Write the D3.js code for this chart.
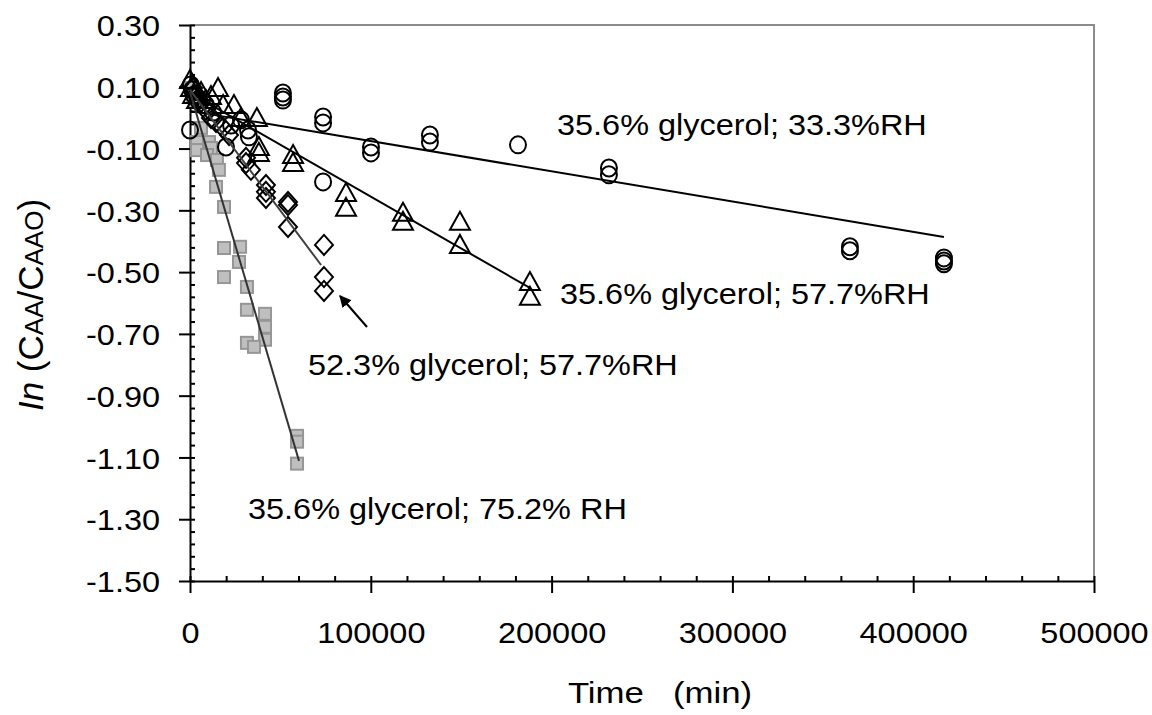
<!DOCTYPE html>
<html><head><meta charset="utf-8">
<script src="https://cdn.jsdelivr.net/npm/d3@7"></script>
<style>
body{margin:0;background:#fff;}
svg text{font-family:"Liberation Sans",Arial,sans-serif;fill:#000;}
</style></head>
<body>
<svg id="chart" width="1152" height="715"></svg>
<script>
// ---------- data ----------
const xTicks = [0, 100000, 200000, 300000, 400000, 500000];
const yTicks = [0.30, 0.10, -0.10, -0.30, -0.50, -0.70, -0.90, -1.10, -1.30, -1.50];

// 35.6% glycerol; 33.3%RH  (circles)
const circT = [500,1100,2200,0,4400,8800,12700,19900,22700,28200,32100,32600,51400,51400,51400,73600,73600,73600,100100,100100,132700,132700,181400,231700,231700,365000,365000,417000,417000,417000];
const circV = [0.106,0.090,0.073,-0.040,0.057,0.041,0.018,-0.095,-0.024,-0.007,-0.040,-0.062,0.080,0.067,0.057,0.002,-0.017,-0.208,-0.095,-0.114,-0.056,-0.079,-0.088,-0.163,-0.185,-0.418,-0.431,-0.454,-0.464,-0.473];
// 35.6% glycerol; 57.7%RH (triangles)
const triT = [0,550,1700,3900,6100,8800,11600,15500,18300,24300,28200,37000,38100,38100,57000,57000,86300,86300,117800,117800,149300,149300,188000,188000];
const triV = [0.122,0.096,0.073,0.057,0.083,0.057,0.070,0.096,0.041,0.041,-0.001,-0.001,-0.095,-0.114,-0.121,-0.147,-0.244,-0.292,-0.308,-0.337,-0.337,-0.412,-0.532,-0.580];
// 52.3% glycerol; 57.7%RH (diamonds)
const diaT = [1700,3900,6100,8800,11600,14400,18300,21600,31000,31000,33700,42000,42000,42000,54200,54200,54200,74100,74100,74100];
const diaV = [0.096,0.073,0.051,0.025,-0.001,-0.014,-0.033,-0.056,-0.130,-0.147,-0.169,-0.218,-0.240,-0.260,-0.273,-0.283,-0.354,-0.412,-0.516,-0.561];
// 35.6% glycerol; 75.2% RH (squares)
const sqT = [550,1660,2770,3870,3870,6080,10500,11600,9400,14900,16000,14400,18800,18800,27700,27100,18800,31500,31500,41500,41500,41500,31500,35400,59200,59200,59200];
const sqV = [0.096,0.073,0.051,-0.079,-0.105,-0.033,-0.079,-0.098,-0.121,-0.137,-0.169,-0.224,-0.289,-0.422,-0.418,-0.467,-0.516,-0.548,-0.622,-0.635,-0.677,-0.719,-0.729,-0.742,-1.030,-1.049,-1.120];

// fitted lines: [t start, v start, t end, v end]
const lineCirc = [0, 0.022, 417000, -0.386];
const lineTri  = [0, 0.080, 188000, -0.551];
const lineDia  = [0, 0.090, 72500, -0.477];
const lineSq   = [0, 0.083, 60300, -1.111];

const labels = ["35.6% glycerol; 33.3%RH","35.6% glycerol; 57.7%RH","52.3% glycerol; 57.7%RH","35.6% glycerol; 75.2% RH"];

// ---------- drawing ----------
const svg = d3.select("#chart");
const L = 190, R = 1094, T = 25, B = 581;
const x = d3.scaleLinear().domain([0, 500000]).range([L, R]);
const y = d3.scaleLinear().domain([-1.5, 0.3]).range([B, T]);
const SX = 1.12;
const FS = 29;

// frame (top/right grey)
svg.append("path").attr("d", `M${L},${T}H${R}V${B}`).attr("fill","none").attr("stroke","#8c8c8c").attr("stroke-width",2);

// minor ticks
const yMinor = d3.range(0, 46).map(i => -1.5 + i * 0.04);
svg.append("g").attr("transform", `translate(${L},0)`)
  .call(d3.axisRight(y).tickValues(yMinor).tickSize(5).tickFormat("").tickSizeOuter(0))
  .call(g => g.select(".domain").remove())
  .call(g => g.selectAll("line").attr("stroke","#000").attr("stroke-width",2));
const xMinor = d3.range(0, 26).map(i => i * 20000);
svg.append("g").attr("transform", `translate(0,${B})`)
  .call(d3.axisTop(x).tickValues(xMinor).tickSize(5).tickFormat("").tickSizeOuter(0))
  .call(g => g.select(".domain").remove())
  .call(g => g.selectAll("line").attr("stroke","#000").attr("stroke-width",2));

// major axes
const gy = svg.append("g").attr("transform", `translate(${L},0)`)
  .call(d3.axisLeft(y).tickValues(yTicks).tickSize(11).tickSizeOuter(0).tickFormat(d => d.toFixed(2)));
gy.select(".domain").attr("stroke","#000").attr("stroke-width",2);
gy.selectAll("line").attr("stroke","#000").attr("stroke-width",2);
gy.selectAll("text").attr("font-size",FS).attr("x", -30 / SX).attr("dy","0.37em")
  .attr("transform", `scale(${SX},1)`);

const gx = svg.append("g").attr("transform", `translate(0,${B})`)
  .call(d3.axisBottom(x).tickValues(xTicks).tickSize(12).tickSizeOuter(0).tickFormat(d3.format("d")));
gx.select(".domain").attr("stroke","#000").attr("stroke-width",2);
gx.selectAll("line").attr("stroke","#000").attr("stroke-width",2);
gx.selectAll("text").attr("font-size",FS).attr("y", 62).attr("dy", 0)
  .attr("transform", `scale(${SX},1)`).attr("x", 0);

// markers
const zip = (a, b) => a.map((t, i) => [t, b[i]]);
const mk = svg.append("g");
mk.selectAll("rect.sq").data(zip(sqT, sqV)).join("rect")
  .attr("x", d => x(d[0]) - 6).attr("y", d => y(d[1]) - 6).attr("width", 12).attr("height", 12)
  .attr("fill", "#bfbfbf").attr("stroke", "#969696").attr("stroke-width", 2);
mk.selectAll("path.dia").data(zip(diaT, diaV)).join("path")
  .attr("d", "M0,-10L9,0L0,10L-9,0Z")
  .attr("transform", d => `translate(${x(d[0])},${y(d[1])})`)
  .attr("fill", "none").attr("stroke", "#000").attr("stroke-width", 2);
mk.selectAll("path.tri").data(zip(triT, triV)).join("path")
  .attr("d", "M0,-10L10,8L-10,8Z")
  .attr("transform", d => `translate(${x(d[0])},${y(d[1])})`)
  .attr("fill", "none").attr("stroke", "#000").attr("stroke-width", 2);
mk.selectAll("ellipse.c").data(zip(circT, circV)).join("ellipse")
  .attr("cx", d => x(d[0])).attr("cy", d => y(d[1])).attr("rx", 8).attr("ry", 8.5)
  .attr("fill", "none").attr("stroke", "#000").attr("stroke-width", 2);

// fitted lines
const line = d3.line().x(d => x(d[0])).y(d => y(d[1]));
[[lineCirc,"#000"],[lineTri,"#000"],[lineDia,"#404040"],[lineSq,"#333"]].forEach(([p,c]) => {
  svg.append("path").attr("d", line([[p[0],p[1]],[p[2],p[3]]]))
    .attr("fill","none").attr("stroke",c).attr("stroke-width",2);
});

// annotations
const labPos = [[557,135],[560,304],[308,375],[248,519]];
labels.forEach((s, i) => {
  svg.append("text").attr("transform", `translate(${labPos[i][0]},${labPos[i][1]}) scale(${SX},1)`)
    .attr("font-size", FS).text(s);
});

// arrow
svg.append("defs").append("marker").attr("id","ah").attr("viewBox","0 0 10 10")
  .attr("refX",9).attr("refY",5).attr("markerWidth",6).attr("markerHeight",6).attr("orient","auto")
  .append("path").attr("d","M0,0L10,5L0,10Z").attr("fill","#000");
svg.append("line").attr("x1",367).attr("y1",327).attr("x2",340).attr("y2",296)
  .attr("stroke","#000").attr("stroke-width",2).attr("marker-end","url(#ah)");

// axis titles
svg.append("text").attr("transform", `translate(660,703) scale(1.16,1)`)
  .attr("text-anchor","middle").attr("font-size",30).style("white-space","pre").text("Time   (min)");

const yt = svg.append("text").attr("transform","translate(43,305) rotate(-90)")
  .attr("text-anchor","middle").attr("font-size",35).style("white-space","pre");
yt.append("tspan").attr("font-style","italic").text("In");
yt.append("tspan").text(" (C");
yt.append("tspan").attr("font-size",26).text("AA");
yt.append("tspan").text("/C");
yt.append("tspan").attr("font-size",26).text("AAO");
yt.append("tspan").text(")");
</script>
</body></html>
